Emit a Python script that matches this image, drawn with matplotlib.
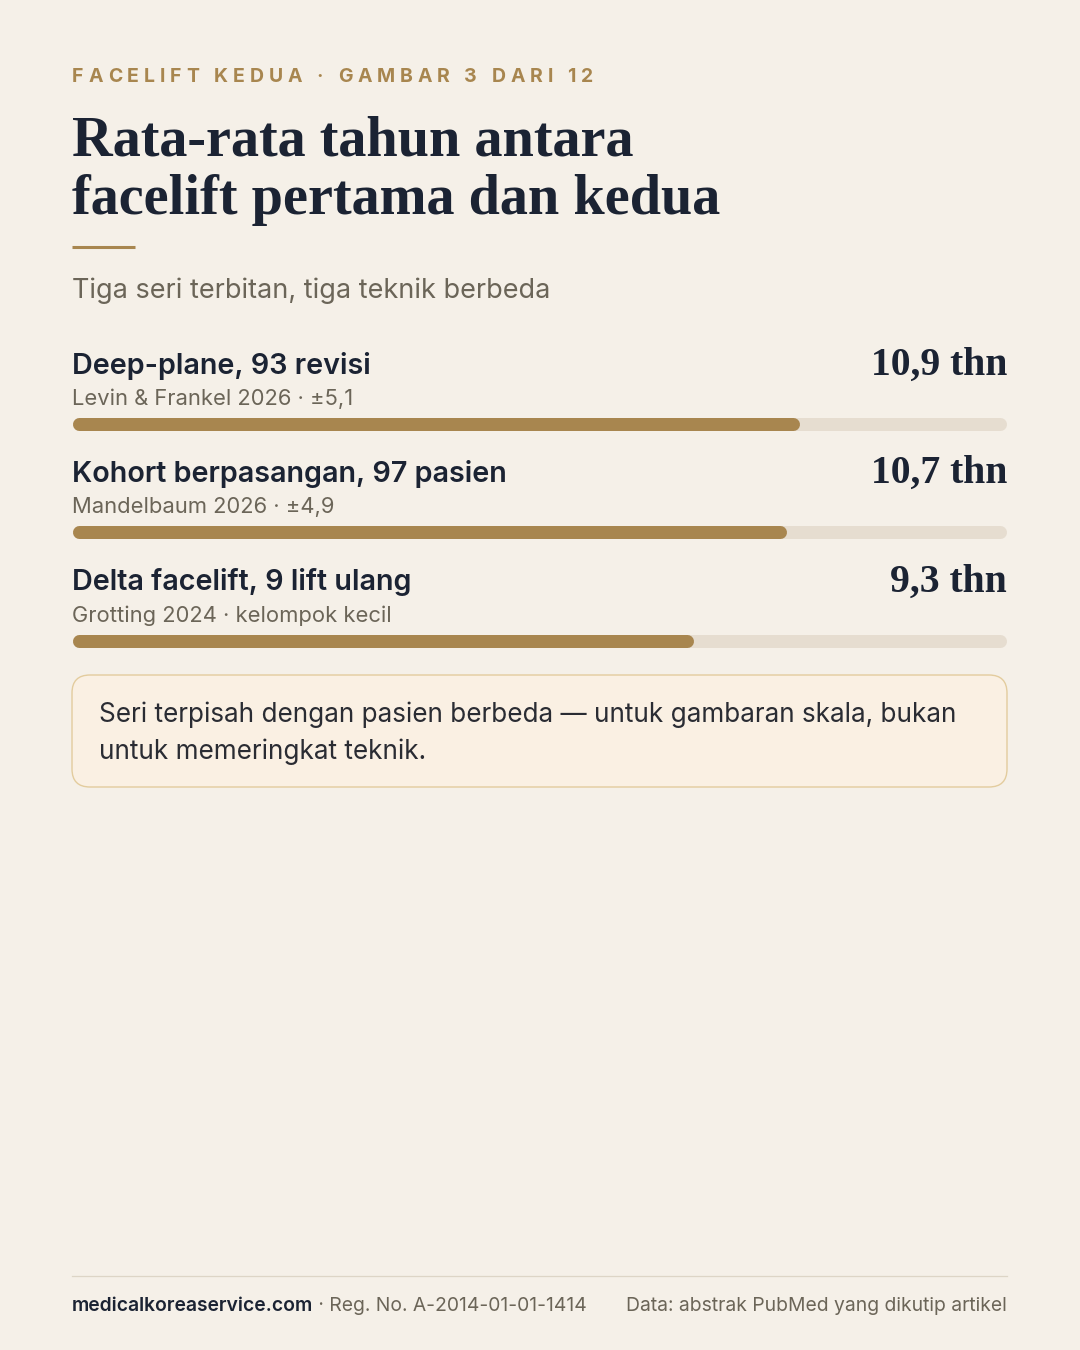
import matplotlib
matplotlib.use("Agg")
import matplotlib.pyplot as plt
from matplotlib.patches import FancyBboxPatch

# data
labels = ["Deep-plane, 93 revisi", "Kohort berpasangan, 97 pasien", "Delta facelift, 9 lift ulang"]
sources = ["Levin & Frankel 2026 · ±5,1", "Mandelbaum 2026 · ±4,9", "Grotting 2024 · kelompok kecil"]
years = [10.9, 10.7, 9.3]
value_labels = ["10,9 thn", "10,7 thn", "9,3 thn"]
scale_max = 14

BG = "#F5F0E8"
GOLD = "#A8864F"
TRACK = "#E6DDD0"
DARK = "#1B2333"
GREY = "#6B6558"
SERIF = ["Liberation Serif", "DejaVu Serif"]
SANS = ["Inter", "DejaVu Sans"]

W, H = 1080, 1350
fig = plt.figure(figsize=(W / 100, H / 100), dpi=100, facecolor=BG)

# overlay axes in pixel units for text
ov = fig.add_axes([0, 0, 1, 1])
ov.set_xlim(0, W)
ov.set_ylim(H, 0)
ov.axis("off")
ov.set_facecolor(BG)

renderer = fig.canvas.get_renderer()


def tracked(x, y, s, x_end, **kw):
    # draw text char by char so that it spans x..x_end
    pieces = []
    widths = []
    for ch in s:
        t = ov.text(0, y, ch, **kw)
        bb = t.get_window_extent(renderer)
        widths.append(bb.width)
        pieces.append(t)
    gap = (x_end - x - sum(widths)) / (len(s) - 1)
    cx = x
    for t, w in zip(pieces, widths):
        t.set_x(cx)
        cx += w + gap


tracked(72, 77, "FACELIFT KEDUA · GAMBAR 3 DARI 12", 593,
        fontsize=14, fontweight="bold", color=GOLD, family=SANS, va="center", ha="left")

ov.text(72, 155, "Rata-rata tahun antara", fontsize=40.5, fontweight="bold",
        color=DARK, family=SERIF, va="baseline", ha="left")
ov.text(72, 214, "facelift pertama dan kedua", fontsize=40.5, fontweight="bold",
        color=DARK, family=SERIF, va="baseline", ha="left")

ov.plot([72, 135], [247, 247], color=GOLD, lw=2.2, solid_capstyle="butt")

ov.text(72, 291, "Tiga seri terbitan, tiga teknik berbeda", fontsize=19.5,
        color=GREY, family=SANS, va="center", ha="left")

row_y0 = 423.5
row_step = 108.5
for i in range(len(labels)):
    by = row_y0 + i * row_step
    ov.text(72, by - 58, labels[i], fontsize=20.7, fontweight="semibold",
            color=DARK, family=SANS, va="center", ha="left")
    ov.text(72, by - 25, sources[i], fontsize=15.8, color=GREY,
            family=SANS, va="center", ha="left")
    ov.text(1007, by - 49, value_labels[i], fontsize=28.5, fontweight="bold",
            color=DARK, family=SERIF, va="baseline", ha="right")

# bar axes: x in years, y in row index
bx = fig.add_axes([72 / W, 1 - (row_y0 + 2.5 * row_step) / H, 935 / W, 3 * row_step / H])
bx.set_xlim(0, scale_max)
bx.set_ylim(2.5, -0.5)
bx.axis("off")
bx.patch.set_alpha(0)
bar_px = 13
r = (bar_px / 2) / 935 * scale_max
lw = bar_px * 0.72
for i, v in enumerate(years):
    bx.plot([r, scale_max - r], [i, i], color=TRACK, lw=lw, solid_capstyle="round")
    bx.plot([r, v - r], [i, i], color=GOLD, lw=lw, solid_capstyle="round")

# note box
box = FancyBboxPatch((72, 675), 935, 112, boxstyle="round,pad=0,rounding_size=18",
                     facecolor="#FAF0E3", edgecolor="#E3CC9E", lw=1.0)
ov.add_patch(box)
ov.text(99, 715, "Seri terpisah dengan pasien berbeda — untuk gambaran skala, bukan",
        fontsize=18.8, color="#2A2C33", family=SANS, va="center", ha="left")
ov.text(99, 752, "untuk memeringkat teknik.",
        fontsize=18.8, color="#2A2C33", family=SANS, va="center", ha="left")

# footer
ov.plot([72, 1007], [1276, 1276], color="#DDD5C6", lw=0.9)
t1 = ov.text(72, 1306, "medicalkoreaservice.com", fontsize=13.9, fontweight="semibold",
             color=DARK, family=SANS, va="center", ha="left")
bb = t1.get_window_extent(renderer)
ov.text(72 + bb.width, 1306, " · Reg. No. A-2014-01-01-1414", fontsize=13.9,
        color=GREY, family=SANS, va="center", ha="left")
ov.text(1007, 1306, "Data: abstrak PubMed yang dikutip artikel", fontsize=13.9,
        color=GREY, family=SANS, va="center", ha="right")

fig.savefig("out.png", dpi=100, facecolor=BG)
